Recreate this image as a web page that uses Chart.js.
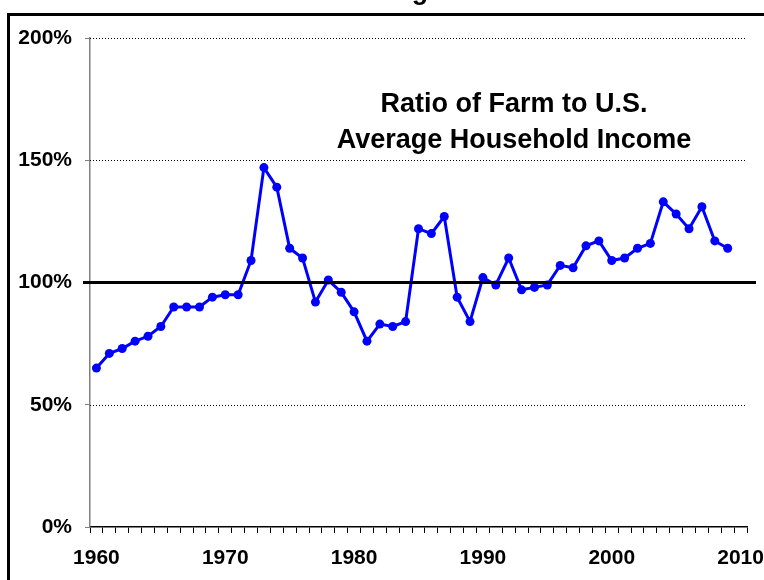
<!DOCTYPE html>
<html>
<head>
<meta charset="utf-8">
<script src="https://cdn.jsdelivr.net/npm/chart.js@4/dist/chart.umd.min.js"></script>
<style>
	html, body { margin: 0; padding: 0; background: #fff; }
	#wrap { position: relative; width: 764px; height: 580px; overflow: hidden; }
	#frame { position: absolute; left: 7px; top: 13px; width: 800px; height: 600px;
		border-top: 3px solid #000; border-left: 3px solid #000; }
	#chart { position: absolute; left: 0; top: 0; }
</style>
</head>
<body>
<div id="wrap">
	<div id="frame"></div>
	<canvas id="chart" width="764" height="580"></canvas>
</div>
<script>
(function() {
	"use strict";

	// years on the category axis (2010 has no value, only a label)
	var years = [];
	for (var y = 1960; y <= 2010; y++) {
		years.push(String(y));
	}

	// ratio of farm to U.S. average household income, percent
	var ratio = [
		65, 71, 73, 76, 78, 82, 90, 90, 90, 94,
		95, 95, 109, 147, 139, 114, 110, 92, 101, 96,
		88, 76, 83, 82, 84, 122, 120, 127, 94, 84,
		102, 99, 110, 97, 98, 99, 107, 106, 115, 117,
		109, 110, 114, 116, 133, 128, 122, 131, 117, 114
	];

	var yTicks = [0, 50, 100, 150, 200];
	var parity = 100;
	var titleLines = ["Ratio of Farm to U.S.", "Average Household Income"];

	var FONT = "'Liberation Sans', Arial, sans-serif";

	var extras = {
		id: "extras",
		afterDraw: function(chart) {
			var ctx = chart.ctx;
			var area = chart.chartArea;
			var yScale = chart.scales.y;
			var py = yScale.getPixelForValue(parity);

			ctx.save();
			// parity line
			ctx.strokeStyle = "#000";
			ctx.lineWidth = 3;
			ctx.beginPath();
			ctx.moveTo(area.left - 7, py);
			ctx.lineTo(area.right + 9, py);
			ctx.stroke();

			// caption inside the plot
			ctx.fillStyle = "#000";
			ctx.font = "bold 27px " + FONT;
			ctx.textAlign = "center";
			ctx.textBaseline = "alphabetic";
			ctx.fillText(titleLines[0], 514, 112);
			ctx.fillText(titleLines[1], 514, 148);

			// descender of the outer title, cut off at the top
			ctx.font = "bold 27px " + FONT;
			ctx.fillText("g", 420, -1);
			ctx.restore();
		},
		beforeDatasetsDraw: function(chart) {
			var ctx = chart.ctx;
			var area = chart.chartArea;
			var yScale = chart.scales.y;
			ctx.save();
			ctx.strokeStyle = "#000";
			ctx.lineWidth = 1;
			ctx.setLineDash([1, 2]);
			yTicks.forEach(function(v) {
				if (v === 0 || v === parity) return;
				var p = Math.round(yScale.getPixelForValue(v)) + 0.5;
				ctx.beginPath();
				ctx.moveTo(area.left, p);
				ctx.lineTo(area.right - 2, p);
				ctx.stroke();
			});
			ctx.restore();
		}
	};

	document.addEventListener("DOMContentLoaded", function() {
		var ctx = document.getElementById("chart").getContext("2d");

		new Chart(ctx, {
			type: "line",
			data: {
				labels: years,
				datasets: [{
					label: "Ratio",
					data: ratio,
					borderColor: "#0000ff",
					backgroundColor: "#0000ff",
					borderWidth: 3,
					pointRadius: 4.5,
					pointBorderWidth: 0,
					pointBackgroundColor: "#0000ff",
					tension: 0
				}]
			},
			options: {
				responsive: false,
				animation: false,
				layout: { padding: { left: 0, right: 17, top: 38, bottom: 0 } },
				plugins: {
					legend: { display: false },
					tooltip: { enabled: false }
				},
				scales: {
					x: {
						type: "category",
						offset: true,
						afterFit: function(scale) {
							scale.height = 53;
							scale.paddingLeft = 0;
							scale.paddingRight = 0;
						},
						border: { color: "#000", width: 1.5 },
						grid: {
							offset: true,
							drawOnChartArea: false,
							drawTicks: true,
							tickLength: 6,
							color: "#000",
							lineWidth: 1
						},
						ticks: {
							autoSkip: false,
							maxRotation: 0,
							padding: 13,
							color: "#000",
							font: { family: FONT, size: 21, weight: "bold" },
							callback: function(v, i) {
								var lab = years[i];
								return Number(lab) % 10 === 0 ? lab : "";
							}
						}
					},
					y: {
						min: 0,
						max: 200,
						afterFit: function(scale) {
							scale.width = 90;
							scale.paddingTop = 0;
							scale.paddingBottom = 0;
						},
						afterBuildTicks: function(scale) {
							scale.ticks = yTicks.map(function(v) { return { value: v }; });
						},
						border: { color: "#808080", width: 1.5 },
						grid: {
							drawOnChartArea: false,
							drawTicks: true,
							tickLength: 5,
							color: "#808080"
						},
						ticks: {
							padding: 13,
							color: "#000",
							font: { family: FONT, size: 21, weight: "bold" },
							callback: function(v) { return v + "%"; }
						}
					}
				}
			},
			plugins: [extras]
		});
	});
}) ();
</script>
</body>
</html>
